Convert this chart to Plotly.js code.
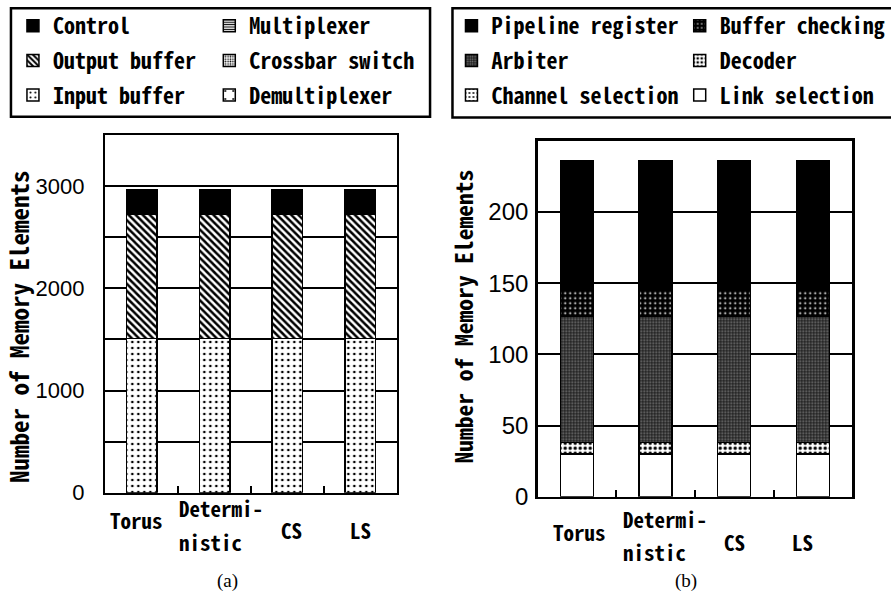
<!DOCTYPE html>
<html>
<head>
<meta charset="utf-8">
<script src="https://cdn.plot.ly/plotly-3.0.1.min.js"></script>
<style>
  html, body { margin: 0; padding: 0; background: #fff; }
  #chart { width: 891px; height: 593px; }
</style>
</head>
<body>
<div id="chart"></div>
<script>
// Router variants compared in both panels
const categories = ['Torus', 'Deterministic', 'CS', 'LS'];
// Category labels as drawn under the bars (line by line)
const labelLines = [['Torus'], ['Determi-', 'nistic'], ['CS'], ['LS']];

// (a) memory elements per router component
const controlA      = [244, 244, 244, 244];
const outputBuffer  = [1210, 1210, 1210, 1210];
const inputBuffer   = [1510, 1510, 1510, 1510];
const multiplexer   = [0, 0, 0, 0];
const crossbar      = [0, 0, 0, 0];
const demultiplexer = [0, 0, 0, 0];

// (b) memory elements of the control part
const pipelineReg   = [91, 91, 91, 91];
const bufferCheck   = [18, 18, 18, 18];
const arbiter       = [89, 89, 89, 89];
const decoder       = [8, 8, 8, 8];
const channelSel    = [0, 0, 0, 0];
const linkSel       = [30, 30, 30, 30];

// Axis ticks
const ticksA = [0, 1000, 2000, 3000];
const ticksB = [0, 50, 100, 150, 200];

const W = 891, H = 593;
const py = p => (H - p) / H;   // pixel row -> paper y
const px = p => p / W;         // pixel column -> paper x

const MONO = '"Noto Sans Mono CJK JP", "DejaVu Sans Mono", monospace';
const NUM = '"Liberation Sans", Arial, sans-serif';

const edge = {color: 'black', width: 1.5};
function fill(shape, fg, bg, size, solidity) {
  if (!shape) return {color: bg, line: edge};
  return {color: bg, line: edge,
          pattern: {shape: shape, fgcolor: fg, bgcolor: bg, size: size, solidity: solidity, fillmode: 'replace'}};
}

function bar(name, y, xa, ya, legend, rank, marker) {
  return {type: 'bar', name: name, x: categories, y: y, xaxis: xa, yaxis: ya,
          legend: legend, legendgroup: name, legendrank: rank,
          marker: marker, hoverinfo: 'skip'};
}

const traces = [
  // panel (a), bottom to top
  bar('Input buffer',    inputBuffer,   'x', 'y', 'legend',  3, fill('.', 'black', 'white', 6, 0.15)),
  bar('Output buffer',   outputBuffer,  'x', 'y', 'legend',  2, fill('\\', 'black', 'white', 5, 0.5)),
  bar('Control',         controlA,      'x', 'y', 'legend',  1, fill(null, 'black', 'black')),
  bar('Multiplexer',     multiplexer,   'x', 'y', 'legend2', 1, fill('-', 'black', 'white', 3, 0.45)),
  bar('Crossbar switch', crossbar,      'x', 'y', 'legend2', 2, fill('.', 'black', 'white', 3, 0.35)),
  bar('Demultiplexer',   demultiplexer, 'x', 'y', 'legend2', 3, fill('.', 'black', 'white', 12, 0.05)),
  // panel (b), bottom to top
  bar('Link selection',    linkSel,     'x2', 'y2', 'legend4', 3, fill(null, 'black', 'white')),
  bar('Channel selection', channelSel,  'x2', 'y2', 'legend3', 3, fill('.', 'black', 'white', 5, 0.18)),
  bar('Decoder',           decoder,     'x2', 'y2', 'legend4', 2, fill('.', 'black', 'white', 5, 0.35)),
  bar('Arbiter',           arbiter,     'x2', 'y2', 'legend3', 2, fill('.', '#7a7a7a', '#222222', 3, 0.3)),
  bar('Buffer checking',   bufferCheck, 'x2', 'y2', 'legend4', 1, fill('.', 'white', 'black', 5, 0.12)),
  bar('Pipeline register', pipelineReg, 'x2', 'y2', 'legend3', 1, fill(null, 'black', 'black'))
];

function xAxis(domain) {
  return {domain: domain, type: 'category', range: [-0.5, 3.5], fixedrange: true,
          showline: true, mirror: true, linecolor: 'black', linewidth: 2.5,
          showgrid: false, showticklabels: false,
          ticks: 'inside', tickson: 'boundaries', ticklen: 7, tickwidth: 2, tickcolor: 'black'};
}
function yAxis(domain, range, tickvals, minorStep, standoff, size) {
  const ax = {domain: domain, range: range, fixedrange: true,
          showline: true, mirror: true, linecolor: 'black', linewidth: 2.5, zeroline: false,
          showgrid: true, gridcolor: 'black', gridwidth: 2,
          tickmode: 'array', tickvals: tickvals, ticks: '',
          ticklabelstandoff: standoff,
          tickfont: {family: NUM, size: size, color: 'black'}};
  if (minorStep) ax.minor = {dtick: minorStep, showgrid: true, gridcolor: 'black', gridwidth: 2, ticks: ''};
  return ax;
}

const yA = yAxis([py(492.7), py(135)], [0, 3500], ticksA, 500, 14, 22);
yA.anchor = 'x';
const yB = yAxis([py(496.7), py(140.7)], [0, 250], ticksB, 50, 2, 24);
yB.anchor = 'x2';
const xA = xAxis([px(105.7), px(398)]); xA.anchor = 'y';
const xB = xAxis([px(539.5), px(855)]); xB.anchor = 'y2';

function legendAt(xPix) {
  return {x: px(xPix), y: py(5), xanchor: 'left', yanchor: 'top',
          orientation: 'v', traceorder: 'grouped', tracegroupgap: 3,
          bgcolor: 'rgba(0,0,0,0)', borderwidth: 0,
          font: {family: MONO, size: 22, color: 'black', weight: 'bold'},
          itemclick: false, itemdoubleclick: false};
}

const annotations = [];
// Category labels, placed line by line under each bar
const labelStyleA = [
  [{dx: -5, y: 520, anchor: 'center'}],
  [{dx: -37.5, y: 508, anchor: 'left'}, {dx: -37.5, y: 541.7, anchor: 'left'}],
  [{dx: 4, y: 530, anchor: 'center'}],
  [{dx: 0, y: 530, anchor: 'center'}]
];
const labelStyleB = [
  [{dx: 3, y: 531.7, anchor: 'center'}],
  [{dx: -35, y: 519, anchor: 'left'}, {dx: -35, y: 551.7, anchor: 'left'}],
  [{dx: 0, y: 541.7, anchor: 'center'}],
  [{dx: -10, y: 541.7, anchor: 'center'}]
];
[['x', labelStyleA], ['x2', labelStyleB]].forEach(([xref, styles]) => {
  categories.forEach((cat, i) => {
    labelLines[i].forEach((line, j) => {
      const s = styles[i][j];
      annotations.push({xref: xref, yref: 'paper', x: cat, y: py(s.y),
        xshift: s.dx, xanchor: s.anchor, yanchor: 'middle', showarrow: false, text: line,
        font: {family: MONO, size: 21, color: 'black', weight: 'bold'}});
    });
  });
});
// Axis titles
annotations.push({xref: 'paper', yref: 'paper', x: px(18), y: py(326), textangle: -90,
  xanchor: 'center', yanchor: 'middle', showarrow: false, text: 'Number of Memory Elements',
  font: {family: MONO, size: 25, color: 'black', weight: 'bold'}});
annotations.push({xref: 'paper', yref: 'paper', x: px(465), y: py(316), textangle: -90,
  xanchor: 'center', yanchor: 'middle', showarrow: false, text: 'Number of Memory Elements',
  font: {family: MONO, size: 23.5, color: 'black', weight: 'bold'}});
// Panel captions
const SERIF = '"Liberation Serif", "Times New Roman", serif';
annotations.push({xref: 'paper', yref: 'paper', x: px(228), y: py(581), xanchor: 'center', yanchor: 'middle',
  showarrow: false, text: '(a)', font: {family: SERIF, size: 19, color: 'black'}});
annotations.push({xref: 'paper', yref: 'paper', x: px(688), y: py(581), xanchor: 'center', yanchor: 'middle',
  showarrow: false, text: '(b)', font: {family: SERIF, size: 19, color: 'black'}});

// Legend frames
const shapes = [
  {type: 'rect', xref: 'paper', yref: 'paper', x0: px(11), x1: px(431.5), y0: py(116.7), y1: py(8.3),
   line: {color: 'black', width: 2.5}, fillcolor: 'rgba(0,0,0,0)', layer: 'below'},
  {type: 'rect', xref: 'paper', yref: 'paper', x0: px(454), x1: px(905), y0: py(117.5), y1: py(8.3),
   line: {color: 'black', width: 2.5}, fillcolor: 'rgba(0,0,0,0)', layer: 'below'}
];

const layout = {
  width: W, height: H,
  margin: {l: 0, r: 0, t: 0, b: 0, pad: 0},
  paper_bgcolor: 'white', plot_bgcolor: 'white',
  barmode: 'stack', bargap: 0.58,
  showlegend: true,
  xaxis: xA, yaxis: yA, xaxis2: xB, yaxis2: yB,
  legend: legendAt(13), legend2: legendAt(210),
  legend3: legendAt(453), legend4: legendAt(682),
  annotations: annotations, shapes: shapes
};

Plotly.newPlot('chart', traces, layout, {staticPlot: true, displayModeBar: false});
</script>
</body>
</html>
